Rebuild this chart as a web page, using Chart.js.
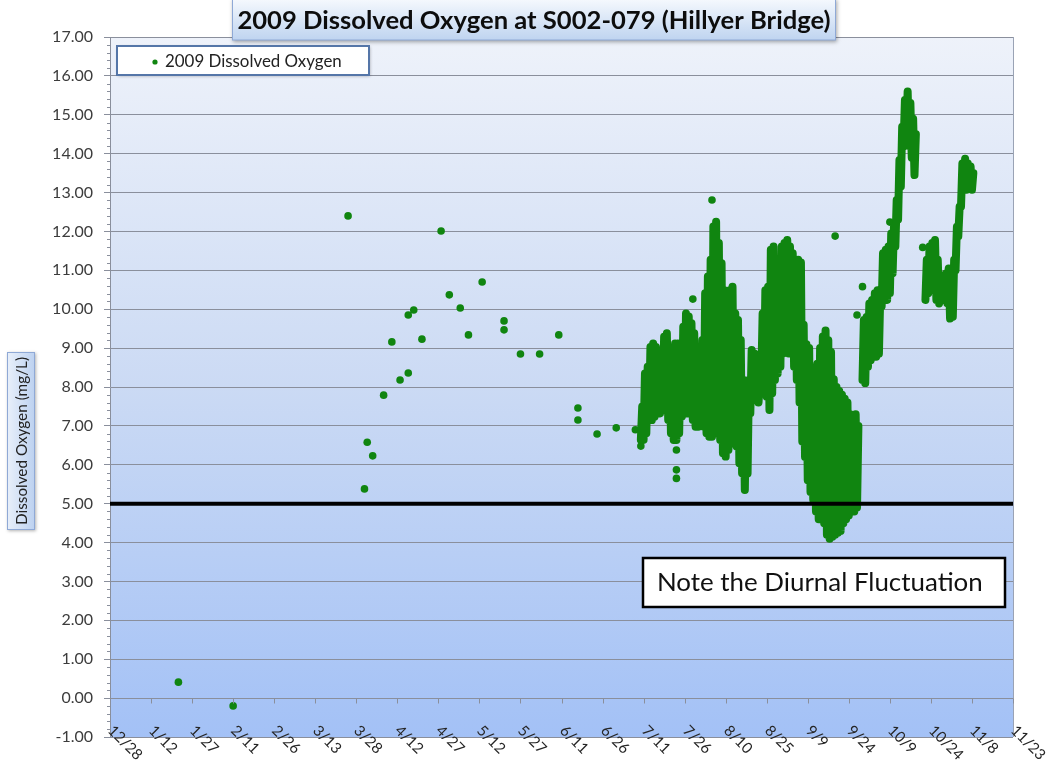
<!DOCTYPE html>
<html>
<head>
<meta charset="utf-8">
<script src="https://cdn.jsdelivr.net/npm/chart.js@4.4.1/dist/chart.umd.min.js"></script>
<style>
  html, body { margin: 0; padding: 0; background: #fff; }
  #chart { display: block; }
</style>
</head>
<body>
<canvas id="chart" width="1056" height="763"></canvas>
<script>

// grab samples (single readings), m/d in 2009
var sampleDates = ['1/22','2/11','3/25','3/31','4/1','4/3','4/7','4/10','4/13','4/16','4/16','4/18','4/21','4/28',
	'5/1','5/5','5/8','5/13','5/21','5/21','5/27','6/3','6/10','6/17','6/17','6/24','7/1','7/8','7/10',
	'7/23','7/23','7/23','7/29','8/5','9/19','9/27','9/29','10/9','10/21'];
var sampleValues = [0.41,-0.2,12.4,5.38,6.58,6.23,7.79,9.16,8.18,9.85,8.36,9.98,9.23,12.01,
	10.37,10.03,9.34,10.7,9.7,9.47,8.85,8.85,9.34,7.46,7.15,6.79,6.95,6.9,6.48,
	6.38,5.87,5.65,10.26,12.81,11.88,9.85,10.58,12.24,11.59];

// continuous logger runs: daily high / low, one entry per day from the start date
var run1Start = '7/10';
var run1High = [7.5,8.35,8.52,9.03,9.12,9.03,8.6,8.52,9.29,9.38,
	8.78,8.86,9.12,9.12,8.69,9.55,9.89,9.81,9.64,9.38,
	9.03,8.86,9.21,10.41,10.84,11.27,12.13,12.25,11.7,11.18,
	10.49,9.89,10.49,10.58,9.89,9.72,9.21,8.18,7.75,8.18,
	8.95,8.86,8.52,8.18,9.89,10.49,10.58,11.53,11.61,10.49,
	10.92,11.61,11.7,11.78,11.61,11.44,11.18,11.27,11.2,9.6,
	9.1,9.0,8.5,8.4,8.6,9.0,9.3,9.45,9.2,8.9,
	8.2,8.0,7.9,7.8,7.7,7.6,7.3,7.1,7.3,7.0];
var run1Low = [6.64,6.64,6.81,7.15,7.15,7.24,7.32,7.32,7.49,7.41,
	7.15,6.81,6.64,6.64,6.81,7.24,7.41,7.32,7.32,7.15,
	6.98,6.98,7.15,6.98,6.81,6.72,6.72,6.81,6.81,6.64,
	6.3,6.21,6.38,6.64,6.55,6.47,6.04,5.78,5.35,5.78,
	7.32,7.66,7.84,7.6,8.18,8.01,7.75,7.41,7.84,8.18,
	8.35,8.52,8.86,8.95,8.86,8.86,8.52,8.18,7.6,6.6,
	6.2,5.6,5.3,5.1,4.8,4.6,4.6,4.5,4.2,4.1,
	4.15,4.2,4.25,4.3,4.5,4.6,4.7,4.8,4.8,4.9];

var run2Start = '9/29';
var run2High = [9.72,9.8,10.15,10.24,10.41,10.49,10.41,11.44,11.53,11.61,
	11.95,12.12,12.81,13.84,14.69,15.38,15.6,15.3,14.9,14.5];
var run2Low = [8.18,8.1,8.52,8.69,8.78,8.78,8.86,10.07,10.24,10.24,
	10.41,10.92,11.61,12.3,13.15,14.18,14.44,14.2,13.9,13.45];

var run3Start = '10/22';
var run3High = [11.27,11.61,11.7,11.78,11.27,10.58,10.49,10.92,11.05,10.58,
	11.27,12.12,12.64,13.75,13.87,13.75,13.67,13.5];
var run3Low = [10.24,10.41,10.49,10.58,10.24,10.15,10.24,10.24,10.15,9.76,
	9.8,11.0,11.87,12.64,13.07,13.07,13.15,13.07];

var doStandard = 5.0;	// mg/L criterion line
var axisDays = 330;	// 12/28/2008 to 11/23/2009
var tickStep = 15;

var green = '#108510';
var DAY = 86400000;
var origin = Date.UTC(2008, 11, 28);

// days since 12/28/2008
function dayOf(md) {
	var p = md.split('/');
	return (Date.UTC(2009, +p[0] - 1, +p[1]) - origin) / DAY;
}

function dayLabel(d) {
	var dt = new Date(origin + d * DAY);
	return (dt.getUTCMonth() + 1) + '/' + dt.getUTCDate();
}

// daily low / high drawn as a zigzag so the band fills like the hourly dots
function runPoints(start, high, low) {
	var d0 = dayOf(start), pts = [];
	for (var i = 0; i < high.length; i++) {
		pts.push({x: d0 + i, y: low[i]});
		pts.push({x: d0 + i + 0.5, y: high[i]});
	}
	return pts;
}

function runDataset(start, high, low) {
	return {
		label: 'run',
		data: runPoints(start, high, low),
		showLine: true,
		borderColor: green,
		borderWidth: 8,
		borderCapStyle: 'round',
		borderJoinStyle: 'round',
		pointRadius: 0,
		order: 1
	};
}

var samplePoints = sampleDates.map(function (d, i) {
	return {x: dayOf(d), y: sampleValues[i]};
});

function fitFont(ctx, text, weight, family, width) {
	ctx.font = weight + ' 20px ' + family;
	var size = 20 * width / ctx.measureText(text).width;
	return weight + ' ' + size.toFixed(1) + 'px ' + family;
}

var decor = {
	id: 'decor',
	beforeDraw: function (chart) {
		var ctx = chart.ctx, a = chart.chartArea;
		var g = ctx.createLinearGradient(0, a.top, 0, a.bottom);
		g.addColorStop(0, '#eef2fa');
		g.addColorStop(0.5, '#cbdaf4');
		g.addColorStop(1, '#a3c1f6');
		ctx.save();
		ctx.fillStyle = g;
		ctx.fillRect(a.left, a.top, a.width, a.height);
		ctx.restore();
	},
	afterDraw: function (chart) {
		var ctx = chart.ctx, a = chart.chartArea;
		var xs = chart.scales.x, ys = chart.scales.y;
		ctx.save();

		// right border of plot
		ctx.strokeStyle = '#9aa3b5';
		ctx.lineWidth = 1;
		ctx.beginPath();
		ctx.moveTo(a.right + 0.5, a.top);
		ctx.lineTo(a.right + 0.5, a.bottom);
		ctx.stroke();

		// minor ticks on y axis
		ctx.strokeStyle = '#8a8f9c';
		for (var v = -1; v < 17; v += 0.2) {
			if (Math.abs(v - Math.round(v)) < 0.01) continue;
			var py = Math.round(ys.getPixelForValue(v)) + 0.5;
			ctx.beginPath();
			ctx.moveTo(a.left - 3, py);
			ctx.lineTo(a.left, py);
			ctx.stroke();
		}

		// x tick marks sit on the 0.00 line, labels at the bottom
		var y0 = Math.round(ys.getPixelForValue(0)) + 0.5;
		ctx.font = '15px Lato';
		ctx.fillStyle = '#262626';
		ctx.textAlign = 'left';
		ctx.textBaseline = 'middle';
		for (var d = 0; d <= axisDays; d += tickStep) {
			var px = Math.round(xs.getPixelForValue(d)) + 0.5;
			if (d > 0) {
				ctx.beginPath();
				ctx.moveTo(px, y0);
				ctx.lineTo(px, y0 + 5);
				ctx.stroke();
			}
			ctx.save();
			ctx.translate(px, a.bottom - 9);
			ctx.rotate(Math.PI / 4);
			ctx.fillText(dayLabel(d), 0, 0);
			ctx.restore();
		}

		// title box
		var title = '2009 Dissolved Oxygen at S002-079 (Hillyer Bridge)';
		ctx.save();
		ctx.shadowColor = 'rgba(0,0,0,0.35)';
		ctx.shadowBlur = 4;
		ctx.shadowOffsetX = 1;
		ctx.shadowOffsetY = 2;
		var tg = ctx.createLinearGradient(0, 0, 0, 40);
		tg.addColorStop(0, '#f4f8fd');
		tg.addColorStop(1, '#bfd4f0');
		ctx.fillStyle = tg;
		ctx.fillRect(232, -2, 604, 42);
		ctx.restore();
		ctx.strokeStyle = '#8fa9d6';
		ctx.strokeRect(232.5, -2, 603, 42);
		ctx.font = fitFont(ctx, title, 'bold', 'Lato', 594);
		ctx.fillStyle = '#0d0d0d';
		ctx.textAlign = 'center';
		ctx.fillText(title, 534, 21);

		// legend box
		var leg = '2009 Dissolved Oxygen';
		ctx.save();
		ctx.shadowColor = 'rgba(0,0,0,0.3)';
		ctx.shadowBlur = 3;
		ctx.shadowOffsetX = 1;
		ctx.shadowOffsetY = 1;
		ctx.fillStyle = '#ffffff';
		ctx.fillRect(117, 46, 252, 29);
		ctx.restore();
		ctx.strokeStyle = '#5576a8';
		ctx.lineWidth = 2;
		ctx.strokeRect(117, 46, 252, 29);
		ctx.fillStyle = green;
		ctx.beginPath();
		ctx.arc(155, 62, 2.6, 0, Math.PI * 2);
		ctx.fill();
		ctx.font = fitFont(ctx, leg, 'normal', 'Lato', 177);
		ctx.fillStyle = '#222';
		ctx.textAlign = 'left';
		ctx.fillText(leg, 165, 62);

		// note box
		var note = 'Note the Diurnal Fluctuation';
		ctx.fillStyle = '#ffffff';
		ctx.fillRect(643, 558, 362, 49);
		ctx.strokeStyle = '#000';
		ctx.lineWidth = 2.5;
		ctx.strokeRect(643, 558, 362, 49);
		ctx.font = fitFont(ctx, note, 'normal', 'Lato', 326);
		ctx.fillStyle = '#111';
		ctx.fillText(note, 657, 583);

		// y axis title box
		var yt = 'Dissolved Oxygen (mg/L)';
		ctx.save();
		ctx.shadowColor = 'rgba(0,0,0,0.3)';
		ctx.shadowBlur = 3;
		ctx.shadowOffsetX = 1;
		ctx.shadowOffsetY = 1;
		var yg = ctx.createLinearGradient(7, 0, 35, 0);
		yg.addColorStop(0, '#e9f0fa');
		yg.addColorStop(1, '#bcd1f0');
		ctx.fillStyle = yg;
		ctx.fillRect(7, 352, 28, 178);
		ctx.restore();
		ctx.strokeStyle = '#8fa9d6';
		ctx.lineWidth = 1;
		ctx.strokeRect(7.5, 352.5, 27, 177);
		ctx.translate(21, 441);
		ctx.rotate(-Math.PI / 2);
		ctx.font = fitFont(ctx, yt, 'normal', 'Lato', 168);
		ctx.fillStyle = '#222';
		ctx.textAlign = 'center';
		ctx.fillText(yt, 0, 1);

		ctx.restore();
	}
};

var ctx = document.getElementById('chart').getContext('2d');

new Chart(ctx, {
	type: 'scatter',
	data: {
		datasets: [{
			label: 'DO standard',
			data: [{x: 0, y: doStandard}, {x: axisDays, y: doStandard}],
			showLine: true,
			borderColor: '#000',
			borderWidth: 4,
			pointRadius: 0,
			order: 0
		},
		runDataset(run1Start, run1High, run1Low),
		runDataset(run2Start, run2High, run2Low),
		runDataset(run3Start, run3High, run3Low),
		{
			label: '2009 Dissolved Oxygen',
			data: samplePoints,
			backgroundColor: green,
			borderWidth: 0,
			pointRadius: 3.8,
			order: 1
		}]
	},
	options: {
		responsive: false,
		animation: false,
		devicePixelRatio: 1,
		layout: {
			padding: {top: 37, right: 43, left: 0, bottom: 0}
		},
		plugins: {
			legend: {display: false},
			tooltip: {enabled: false}
		},
		scales: {
			x: {
				type: 'linear',
				min: 0,
				max: axisDays,
				ticks: {display: false, stepSize: tickStep},
				grid: {display: false},
				border: {display: false},
				afterFit: function (s) { s.height = 26; }
			},
			y: {
				min: -1,
				max: 17,
				ticks: {
					stepSize: 1,
					padding: 11,
					color: '#3c3c3c',
					font: {family: 'Lato', size: 16},
					callback: function (v) { return v.toFixed(2); }
				},
				grid: {
					color: '#8a8f9c',
					lineWidth: 1,
					tickLength: 6
				},
				border: {display: true, color: '#8a8f9c'},
				afterFit: function (s) { s.width = 110; }
			}
		}
	},
	plugins: [decor]
});
</script>
</body>
</html>
